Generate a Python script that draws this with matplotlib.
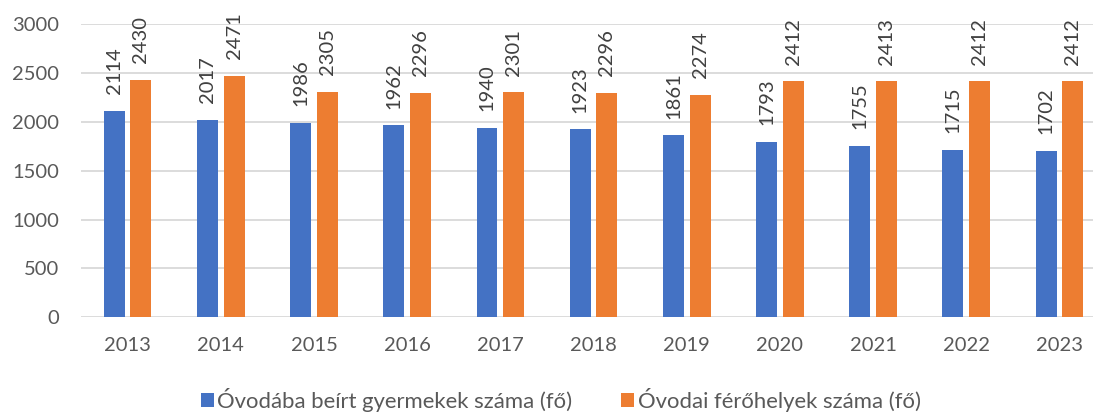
import matplotlib.pyplot as plt
import numpy as np

years = ['2013', '2014', '2015', '2016', '2017', '2018', '2019', '2020', '2021', '2022', '2023']
enrolled = [2114, 2017, 1986, 1962, 1940, 1923, 1861, 1793, 1755, 1715, 1702]
places = [2430, 2471, 2305, 2296, 2301, 2296, 2274, 2412, 2413, 2412, 2412]
labels = ['Óvodába beírt gyermekek száma (fő)', 'Óvodai férőhelyek száma (fő)']

plt.rcParams['font.family'] = ['Lato', 'DejaVu Sans']
txt = '#595959'

fig = plt.figure(figsize=(10.93, 4.13), dpi=100)
ax = fig.add_axes([81 / 1093, 0.2317, 1 - 81 / 1093, 0.9419 - 0.2317])

x = np.arange(len(years))
w = 0.225
off = 0.143
b1 = ax.bar(x - off, enrolled, w, color='#4472C4', label=labels[0], zorder=3)
b2 = ax.bar(x + off, places, w, color='#ED7D31', label=labels[1], zorder=3)

for bars in (b1, b2):
    for r in bars:
        ax.annotate(str(int(r.get_height())), (r.get_x() + r.get_width() / 2, r.get_height()),
                    xytext=(0, 12), textcoords='offset points', rotation=90,
                    ha='center', va='bottom', fontsize=14.5, color='#404040')

ax.set_ylim(0, 3000)
ax.set_yticks(range(0, 3001, 500))
ax.set_xlim(-0.5, 10.36)
ax.set_xticks(x)
ax.set_xticklabels(years)
ax.grid(axis='y', color='#D9D9D9', lw=1.3, zorder=0)
for s in ax.spines.values():
    s.set_visible(False)
ax.tick_params(length=0, labelsize=14.5, labelcolor=txt)
ax.tick_params(axis='x', pad=14)
ax.tick_params(axis='y', pad=16)

fig.legend(loc='center', bbox_to_anchor=(0.513, 13 / 413), ncol=2, frameon=False,
           fontsize=15.9, labelcolor=txt, handlelength=0.6, handleheight=0.6,
           handletextpad=0.15, columnspacing=2.2, borderaxespad=0)

fig.savefig('out.png', dpi=100)
